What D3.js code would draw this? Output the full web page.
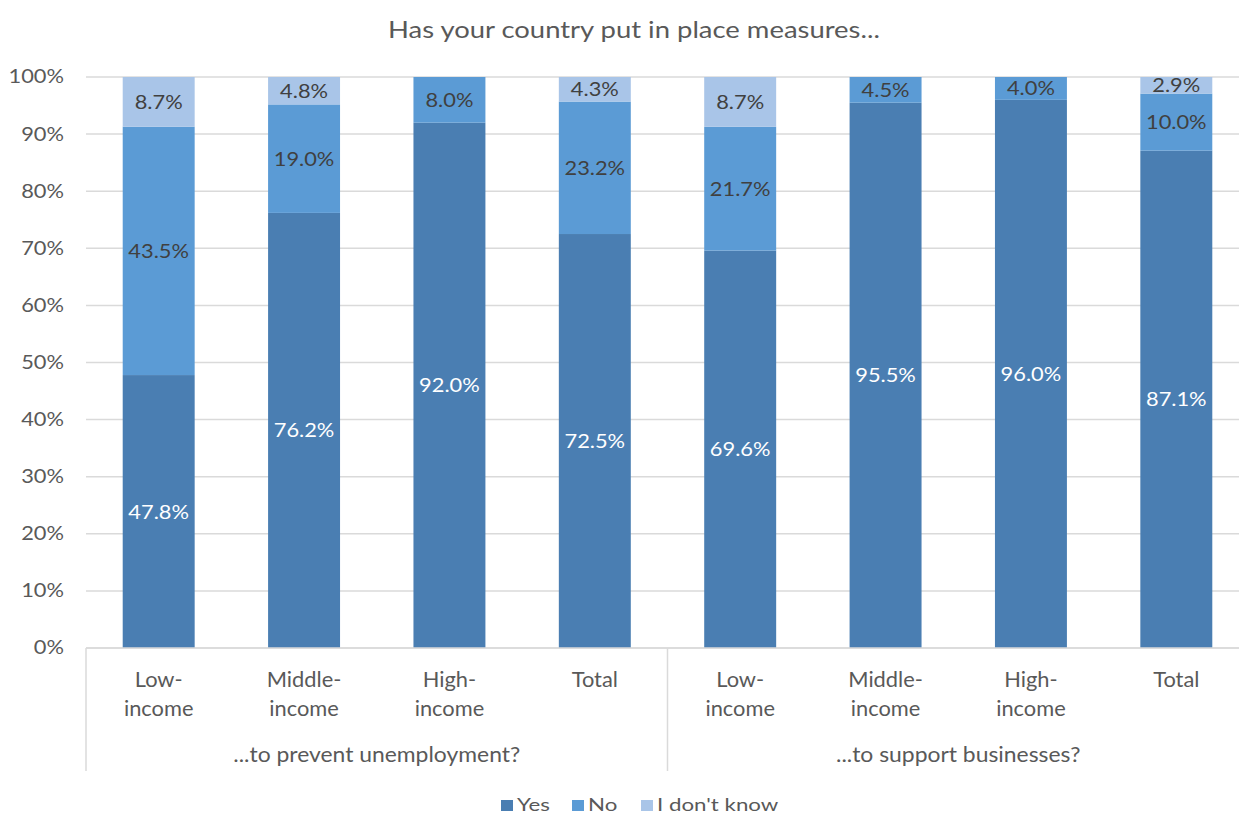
<!DOCTYPE html>
<html>
<head>
<meta charset="utf-8">
<script src="https://cdn.jsdelivr.net/npm/d3@7"></script>
<style>
  html, body { margin: 0; padding: 0; background: #fff; }
  svg { display: block; font-family: Lato, "Open Sans", sans-serif; }
</style>
</head>
<body>
<svg id="chart" width="1239" height="814"></svg>
<script>
// Survey answers, percent of respondents per income group
const groups = ["...to prevent unemployment?", "...to support businesses?"];
const incomeLevels = [["Low-", "income"], ["Middle-", "income"], ["High-", "income"], ["Total"]];
const seriesNames = ["Yes", "No", "I don't know"];
const yesValues  = [47.8, 76.2, 92.0, 72.5, 69.6, 95.5, 96.0, 87.1];
const noValues   = [43.5, 19.0,  8.0, 23.2, 21.7,  4.5,  4.0, 10.0];
const dkValues   = [ 8.7,  4.8,  0.0,  4.3,  8.7,  0.0,  0.0,  2.9];
const yTicks = [0, 10, 20, 30, 40, 50, 60, 70, 80, 90, 100];
const colors = ["#4a7eb2", "#5b9bd5", "#a9c5e8"];
const labelColors = ["#ffffff", "#404040", "#404040"];

const rows = yesValues.map((v, i) => ({
  key: i,
  group: Math.floor(i / incomeLevels.length),
  level: incomeLevels[i % incomeLevels.length],
  "Yes": v, "No": noValues[i], "I don't know": dkValues[i]
}));

// widen glyphs horizontally about each text's anchor point
function stretch(sel, sx) {
  sel.each(function () {
    const t = d3.select(this);
    const ax = +t.attr("x") || 0, ay = +t.attr("y") || 0;
    t.attr("transform", `translate(${ax},${ay}) scale(${sx},1) translate(${-ax},${-ay})`);
  });
}

const svg = d3.select("#chart");
const plotLeft = 86, plotRight = 1249, plotTop = 77, plotBottom = 648;

const x = d3.scaleBand()
  .domain(rows.map(d => d.key))
  .range([plotLeft, plotRight])
  .paddingInner(0.505)
  .paddingOuter(0.2525);
const y = d3.scaleLinear().domain([0, 100]).range([plotBottom, plotTop]);

// gridlines
svg.append("g")
  .selectAll("line")
  .data(yTicks)
  .join("line")
  .attr("x1", plotLeft).attr("x2", plotRight)
  .attr("y1", d => y(d)).attr("y2", d => y(d))
  .attr("stroke", "#dadada").attr("stroke-width", 1.5);

// y axis labels
const yAxis = svg.append("g")
  .attr("transform", `translate(${plotLeft},0)`)
  .call(d3.axisLeft(y).tickValues(yTicks).tickFormat(d => d + "%").tickSize(0).tickPadding(22));
yAxis.select(".domain").remove();
yAxis.selectAll("text")
  .attr("fill", "#595959")
  .style("font-size", "18.5px")
  .style("font-family", "Lato, 'Open Sans', sans-serif")
  .call(stretch, 1.18);

// stacked bars
const stacked = d3.stack().keys(seriesNames)(rows);
const layers = svg.append("g").selectAll("g")
  .data(stacked)
  .join("g")
  .attr("fill", (d, i) => colors[i]);

layers.selectAll("rect")
  .data(d => d)
  .join("rect")
  .attr("x", d => x(d.data.key))
  .attr("width", x.bandwidth())
  .attr("y", d => y(d[1]))
  .attr("height", d => y(d[0]) - y(d[1]));

// value labels
stacked.forEach((layer, si) => {
  svg.append("g").selectAll("text")
    .data(layer.filter(d => d[1] - d[0] > 0))
    .join("text")
    .attr("x", d => x(d.data.key) + x.bandwidth() / 2)
    .attr("y", d => y((d[0] + d[1]) / 2))
    .attr("dy", "0.36em")
    .attr("text-anchor", "middle")
    .attr("fill", labelColors[si])
    .style("font-size", "19.5px")
    .text(d => (d[1] - d[0]).toFixed(1) + "%")
    .call(stretch, 1.12);
});

// category axis: baseline and group separators
svg.append("line")
  .attr("x1", plotLeft).attr("x2", plotRight)
  .attr("y1", plotBottom).attr("y2", plotBottom)
  .attr("stroke", "#dadada").attr("stroke-width", 1.5);

const groupEdges = d3.range(groups.length + 1).map(g => plotLeft + g * incomeLevels.length * x.step());
svg.append("g").selectAll("line")
  .data(groupEdges)
  .join("line")
  .attr("x1", d => d).attr("x2", d => d)
  .attr("y1", plotBottom).attr("y2", 771)
  .attr("stroke", "#dadada").attr("stroke-width", 1.5);

// category labels
const catLabels = svg.append("g").selectAll("text")
  .data(rows)
  .join("text")
  .attr("x", d => x(d.key) + x.bandwidth() / 2)
  .attr("y", 687)
  .attr("text-anchor", "middle")
  .attr("fill", "#595959")
  .style("font-size", "21px");
catLabels.selectAll("tspan")
  .data(d => d.level)
  .join("tspan")
  .attr("x", function () { return d3.select(this.parentNode).attr("x"); })
  .attr("dy", (d, i) => i === 0 ? 0 : 29)
  .text(d => d);
catLabels.call(stretch, 1.04);

// group labels
svg.append("g").selectAll("text")
  .data(groups)
  .join("text")
  .attr("x", (d, i) => (groupEdges[i] + groupEdges[i + 1]) / 2)
  .attr("y", 762)
  .attr("text-anchor", "middle")
  .attr("fill", "#595959")
  .style("font-size", "21px")
  .text(d => d)
  .call(stretch, 1.09);

// title
svg.append("text")
  .attr("x", 634).attr("y", 38)
  .attr("text-anchor", "middle")
  .attr("fill", "#595959")
  .style("font-size", "22.5px")
  .text("Has your country put in place measures...")
  .call(stretch, 1.22);

// legend
const legendX = [501, 572, 641];
const legend = svg.append("g").selectAll("g")
  .data(seriesNames)
  .join("g")
  .attr("transform", (d, i) => `translate(${legendX[i]},800)`);
legend.append("rect")
  .attr("width", 12).attr("height", 11)
  .attr("fill", (d, i) => colors[i]);
legend.append("text")
  .attr("x", 16).attr("y", 11)
  .attr("fill", "#595959")
  .style("font-size", "18px")
  .text(d => d)
  .call(stretch, 1.24);
</script>
</body>
</html>
